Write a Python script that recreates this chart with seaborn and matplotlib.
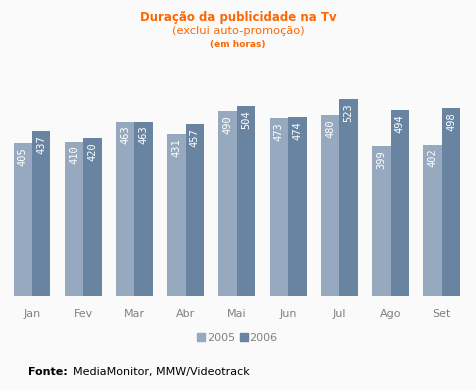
"""Duração da publicidade na TV, 2005 vs 2006"""

import numpy as np
import pandas as pd
import matplotlib
matplotlib.use("Agg")
import matplotlib.pyplot as plt
import seaborn as sns

months = ["Jan", "Fev", "Mar", "Abr", "Mai", "Jun", "Jul", "Ago", "Set"]
horas_2005 = [405, 410, 463, 431, 490, 473, 480, 399, 402]
horas_2006 = [437, 420, 463, 457, 504, 474, 523, 494, 498]
years = ["2005", "2006"]

df = pd.DataFrame({
    "mes": months * 2,
    "ano": [years[0]] * len(months) + [years[1]] * len(months),
    "horas": horas_2005 + horas_2006,
})

sns.set_style("white")
plt.rcParams["font.family"] = ["DejaVu Sans"]

bg = "#fafafa"
orange = "#ff6600"
palette = {"2005": "#97a9be", "2006": "#6884a1"}

fig = plt.figure(figsize=(4.76, 3.90), dpi=100, facecolor=bg)
ax = fig.add_axes([0.0134, 0.241, 0.9685, 0.541], facecolor=bg)

sns.barplot(data=df, x="mes", y="horas", hue="ano", palette=palette,
            width=0.72, saturation=1, linewidth=0, legend=False, ax=ax)

# value labels inside the top of every bar, rotated
for cont in ax.containers:
    for patch in cont:
        h = patch.get_height()
        ax.annotate(f"{h:.0f}", (patch.get_x() + patch.get_width() / 2, h),
                    xytext=(0, -3), textcoords="offset points",
                    rotation=90, ha="center", va="top", color="white",
                    fontsize=7.5, fontfamily="DejaVu Sans Mono")

ax.set_ylim(0, 560)
ax.set_xlim(-0.5, len(months) - 0.5)
ax.set_xlabel("")
ax.set_ylabel("")
ax.set_yticks([])
ax.tick_params(axis="x", length=0, pad=9, labelsize=8, labelcolor="#808080")
sns.despine(ax=ax, left=True, bottom=True)

# titles
fig.text(238 / 476, 1 - 18 / 390, "Duração da publicidade na Tv", ha="center",
         va="center", color=orange, fontsize=8.5, fontweight="bold")
fig.text(238 / 476, 1 - 31 / 390, "(exclui auto-promoção)", ha="center",
         va="center", color=orange, fontsize=8.2)
fig.text(238 / 476, 1 - 44 / 390, "(em horas)", ha="center", va="center",
         color=orange, fontsize=6.5, fontweight="bold")

# legend
handles = [plt.Line2D([], [], ls="", marker="s", markersize=6,
                      color=palette[y]) for y in years]
fig.legend(handles, years, loc="center", bbox_to_anchor=(237 / 476, 1 - 338 / 390),
           ncol=2, frameon=False, fontsize=8, labelcolor="#808080",
           handletextpad=0.1, columnspacing=0.4, handlelength=0.8)

# source
fig.text(28 / 476, 1 - 372 / 390, "Fonte:", ha="left", va="center",
         fontsize=8, fontweight="bold", color="black")
fig.text(73 / 476, 1 - 372 / 390, "MediaMonitor, MMW/Videotrack", ha="left",
         va="center", fontsize=8, color="black")

fig.savefig("out.png", dpi=100, facecolor=bg)
